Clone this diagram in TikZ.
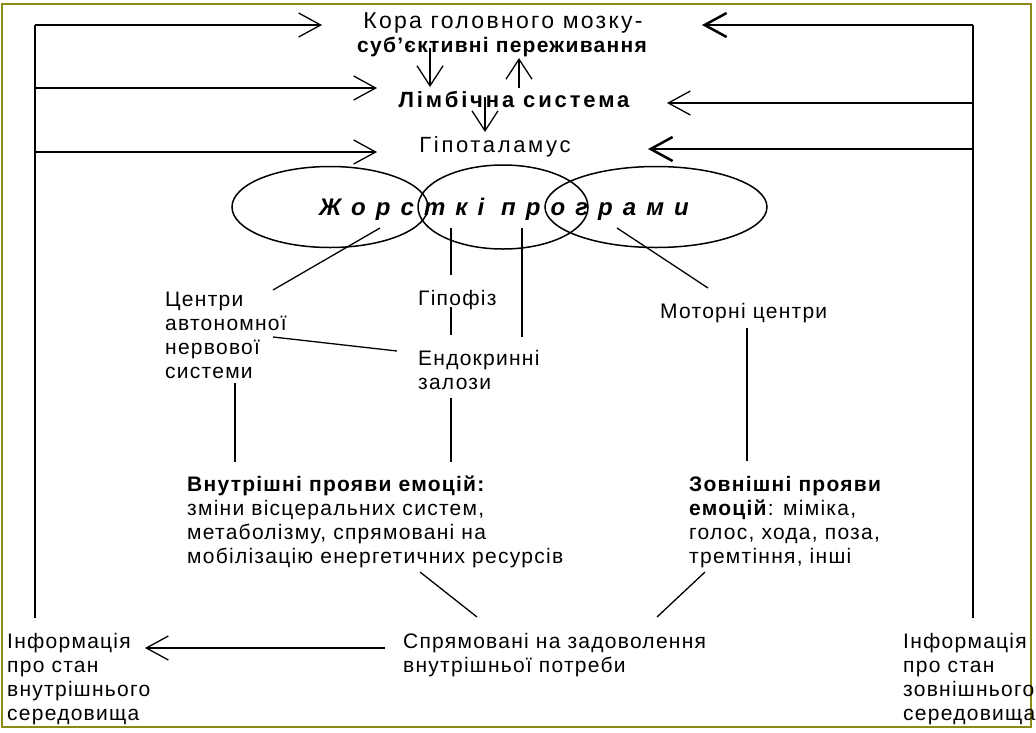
\documentclass[tikz,border=0pt]{standalone}
\usepackage{fontspec}
\setmainfont{Liberation Sans}[LetterSpace=6]
\newfontfamily\progfont[LetterSpace=42]{Liberation Sans}
\usetikzlibrary{arrows.meta,shapes.geometric}
\definecolor{frameolive}{RGB}{140,140,20}

\begin{document}
\begin{tikzpicture}[x=1pt,y=-1pt,
  lbl/.style={inner sep=0pt,font=\fontsize{21}{24}\selectfont},
  lblb/.style={inner sep=0pt,font=\fontsize{21}{24}\selectfont\bfseries},
  wide/.style={inner sep=0pt,font=\fontsize{22}{24}\selectfont\addfontfeatures{LetterSpace=#1}},
  wideb/.style={inner sep=0pt,font=\fontsize{22}{24}\selectfont\bfseries\addfontfeatures{LetterSpace=#1}},
  block/.style={lbl,align=left,anchor=north west},
  oval/.style={draw,ellipse,line width=1.5pt,inner sep=0pt},
  link/.style={line width=1.3pt},
  heavy/.style={line width=2.5pt},
  arr/.style={-{Straight Barb[length=22pt,width=24pt]}},
  varr/.style={-{Straight Barb[length=20pt,width=26pt]},line width=1.3pt}]
\useasboundingbox (0,0) rectangle (1036,732);
\draw[frameolive,line width=1.5pt] (2,4) rectangle (1031,727);

% top block
\node[inner sep=0pt,font=\fontsize{23}{24}\selectfont\addfontfeatures{LetterSpace=10}] (kora) at (503,23) {Кора головного мозку-};
\node[lblb] (subj) at (502,47) {суб'єктивні переживання};
\node[wideb=13] (limb) at (514,100) {Лімбічна система};
\node[wide=12] (hypo) at (495,147) {Гіпоталамус};

% programs
\node[oval,minimum width=196pt,minimum height=81pt] (progL) at (330,207) {};
\node[oval,minimum width=170pt,minimum height=84pt] (progM) at (503,207) {};
\node[oval,minimum width=222pt,minimum height=81pt] (progR) at (656,207) {};
\node[inner sep=0pt,font=\progfont\bfseries\itshape\fontsize{24}{26}\selectfont] (prog) at (504,209) {Жорсткі програми};

% centres
\node[block] (avt) at (165,292) {Центри\\автономної\\нервової\\системи};
\node[lbl,anchor=west] (gip) at (418,300) {Гіпофіз};
\node[block] (endo) at (418,350) {Ендокринні\\залози};
\node[lbl,anchor=west] (motor) at (660,313) {Моторні центри};

% manifestations
\node[block] (inner) at (187,476) {\textbf{Внутрішні прояви емоцій:}\\зміни вісцеральних систем,\\метаболізму, спрямовані на\\мобілізацію енергетичних ресурсів};
\node[block] (outer) at (689,476) {\textbf{Зовнішні прояви}\\\textbf{емоцій}: міміка,\\голос, хода, поза,\\тремтіння, інші};
\node[block] (goal) at (403,633) {Спрямовані на задоволення\\внутрішньої потреби};
\node[block] (infoL) at (7,633) {Інформація\\про стан\\внутрішнього\\середовища};
\node[block] (infoR) at (903,633) {Інформація\\про стан\\зовнішнього\\середовища};

% feedback loops
\coordinate (lt) at (35,25);
\coordinate (lm) at (35,88);
\coordinate (lh) at (35,152);
\coordinate (lb) at (35,618);
\coordinate (rt) at (973,25);
\coordinate (rm) at (973,103);
\coordinate (rh) at (973,149);
\coordinate (rb) at (973,618);
\coordinate (koraL) at (322,25);
\coordinate (limbL) at (377,88);
\coordinate (hypoL) at (377,152);
\coordinate (koraR) at (702,25);
\coordinate (limbR) at (667,103);
\coordinate (hypoR) at (648,149);

\draw[link] (lb) -- (lt);
\draw[link,arr] (lt) -- (koraL);
\draw[link,arr] (lm) -- (limbL);
\draw[link,arr] (lh) -- (hypoL);
\draw[heavy] (rb) -- (rt);
\draw[heavy,arr] (rt) -- (koraR);
\draw[link,arr] (rm) -- (limbR);
\draw[heavy,arr] (rh) -- (hypoR);

% vertical arrows
\coordinate (k1) at (430,48);
\coordinate (k2) at (430,87);
\coordinate (u1) at (519,88);
\coordinate (u2) at (519,58);
\coordinate (h1) at (485,97);
\coordinate (h2) at (485,132);
\draw[varr] (k1) -- (k2);
\draw[varr] (u1) -- (u2);
\draw[varr] (h1) -- (h2);

% links from the programs
\coordinate (pa) at (380,228);
\coordinate (pb) at (451,228);
\coordinate (pc) at (522,228);
\coordinate (pd) at (617,228);
\draw[link] (pa) -- (273,290);
\draw[link] (pb) -- (451,275);
\draw[link] (451,307) -- (451,335);
\draw[link] (pc) -- (522,337);
\draw[link] (pd) -- (708,288);
\draw[link] (273,337) -- (397,351);

% down to manifestations
\draw[link] (235,383) -- (235,462);
\draw[link] (451,398) -- (451,462);
\draw[link] (747,328) -- (747,461);
\draw[link] (420,572) -- (477,617);
\draw[link] (705,572) -- (657,617);
\coordinate (goalL) at (385,648);
\coordinate (infoLtip) at (145,648);
\draw[link,arr] (goalL) -- (infoLtip);
\end{tikzpicture}
\end{document}
